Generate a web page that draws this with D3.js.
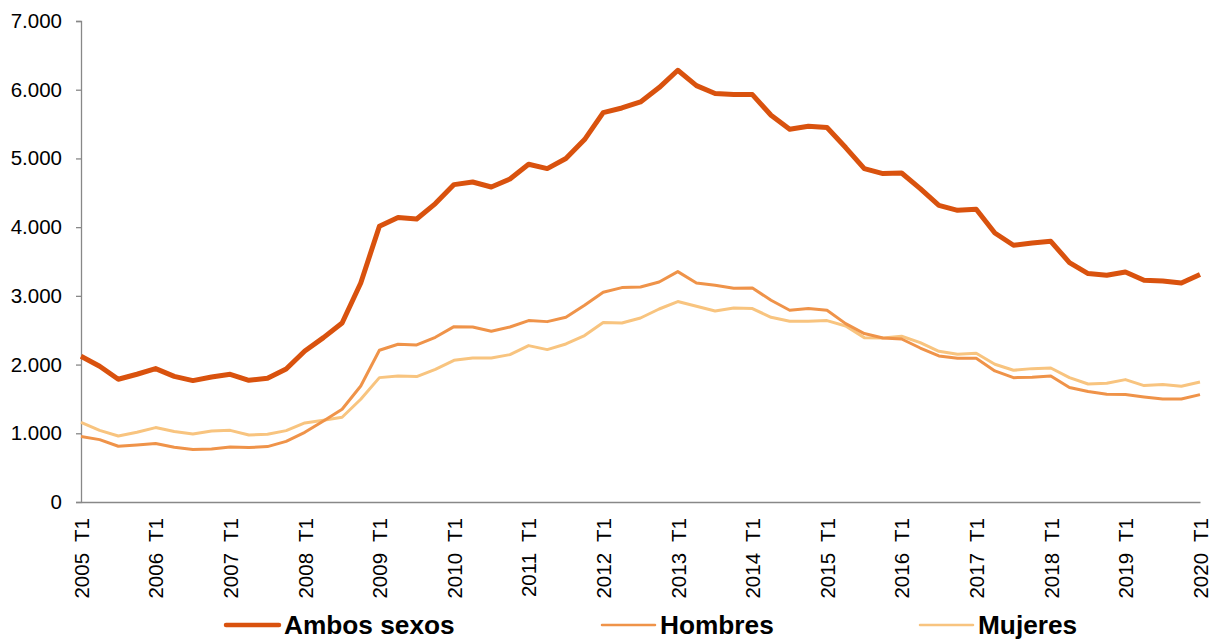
<!DOCTYPE html>
<html>
<head>
<meta charset="utf-8">
<script src="https://cdn.jsdelivr.net/npm/d3@7"></script>
<style>
  html, body { margin: 0; padding: 0; background: #fff; }
  svg { display: block; font-family: Arial, "Liberation Sans", sans-serif; }
</style>
</head>
<body>
<script>
// años del eje (cada uno con sus cuatro trimestres), la serie acaba en 2020 T1
const years = [2005, 2006, 2007, 2008, 2009, 2010, 2011, 2012, 2013, 2014, 2015, 2016, 2017, 2018, 2019, 2020];
const quarters = years.flatMap(y => ["T1", "T2", "T3", "T4"].map(t => `${y} ${t}`)).slice(0, 61);

const ambos = [
  2120, 1975, 1786, 1859, 1941, 1829, 1767, 1820, 1859, 1771, 1800, 1936,
  2198, 2392, 2605, 3188, 4012, 4139, 4119, 4343, 4619, 4657, 4584, 4701,
  4915, 4852, 4998, 5274, 5667, 5734, 5822, 6031, 6283, 6060, 5944, 5929,
  5929, 5628, 5424, 5468, 5449, 5158, 4852, 4779, 4788, 4561, 4318, 4245,
  4260, 3915, 3736, 3770, 3794, 3484, 3324, 3299, 3348, 3227, 3217, 3188, 3310
];
const hombres = [
  952, 908, 811, 830, 850, 796, 763, 771, 800, 792, 806, 883,
  1014, 1179, 1349, 1688, 2208, 2295, 2285, 2397, 2552, 2547, 2484, 2547,
  2640, 2625, 2688, 2863, 3052, 3120, 3129, 3202, 3353, 3187, 3154, 3110,
  3115, 2936, 2790, 2815, 2790, 2596, 2451, 2387, 2372, 2241, 2125, 2091,
  2091, 1907, 1810, 1815, 1834, 1665, 1607, 1567, 1563, 1528, 1499, 1499, 1563
];
const mujeres = [
  1160, 1043, 961, 1014, 1083, 1025, 990, 1033, 1043, 975, 985, 1039,
  1150, 1189, 1233, 1495, 1810, 1834, 1825, 1931, 2062, 2096, 2096, 2145,
  2276, 2218, 2300, 2422, 2611, 2605, 2678, 2809, 2917, 2848, 2780, 2824,
  2815, 2688, 2630, 2630, 2640, 2562, 2392, 2387, 2412, 2320, 2193, 2150,
  2164, 2004, 1917, 1941, 1950, 1810, 1717, 1728, 1781, 1694, 1709, 1684, 1746
];
const yTicks = [0, 1000, 2000, 3000, 4000, 5000, 6000, 7000];

const series = [
  { name: "Ambos sexos", values: ambos, color: "#d9520e", width: 5 },
  { name: "Hombres", values: hombres, color: "#ef9349", width: 3 },
  { name: "Mujeres", values: mujeres, color: "#f8c47f", width: 3 }
];

const width = 1219, height = 639;
const margin = { top: 21, right: 19, bottom: 137, left: 81 };

const es = d3.formatLocale({ decimal: ",", thousands: ".", grouping: [3], currency: ["", " €"] });
const fmt = es.format(",.0f");

const svg = d3.select("body").append("svg")
    .attr("width", width)
    .attr("height", height);

const x = d3.scalePoint()
    .domain(quarters)
    .range([margin.left, width - margin.right]);

const y = d3.scaleLinear()
    .domain([0, 7000])
    .range([height - margin.bottom, margin.top]);

// eje Y
const yAxis = svg.append("g")
    .attr("transform", `translate(${margin.left},0)`)
    .call(d3.axisLeft(y).tickValues(yTicks).tickFormat(fmt).tickSize(5).tickPadding(14));
yAxis.select(".domain").attr("stroke", "#888").attr("stroke-width", 1.3);
yAxis.selectAll(".tick line").attr("stroke", "#888").attr("stroke-width", 1.3);
yAxis.selectAll(".tick text")
    .attr("fill", "#000")
    .style("font-size", "20.5px");

// eje X (solo etiquetas de T1)
const xAxis = svg.append("g")
    .attr("transform", `translate(0,${height - margin.bottom})`)
    .call(d3.axisBottom(x)
      .tickValues(quarters.filter(q => q.endsWith("T1")))
      .tickSize(0)
      .tickSizeOuter(0));
xAxis.select(".domain").attr("stroke", "#888").attr("stroke-width", 1.3);
xAxis.selectAll(".tick text")
    .attr("fill", "#000")
    .style("font-size", "20.5px")
    .style("white-space", "pre")
    .attr("text-anchor", "end")
    .attr("transform", "rotate(-90)")
    .attr("x", -16)
    .attr("y", 0)
    .attr("dy", "0.36em")
    .text(d => d.replace(" ", "  "));

// líneas
const line = d3.line()
    .x((d, i) => x(quarters[i]))
    .y(d => y(d));

svg.append("g")
    .attr("fill", "none")
    .attr("stroke-linejoin", "round")
  .selectAll("path")
  .data(series.slice().reverse())
  .join("path")
    .attr("stroke", d => d.color)
    .attr("stroke-width", d => d.width)
    .attr("d", d => line(d.values));

// leyenda
const legendX = [226, 602, 920];
const legend = svg.append("g")
  .selectAll("g")
  .data(series)
  .join("g")
    .attr("transform", (d, i) => `translate(${legendX[i]},625)`);

legend.append("line")
    .attr("x1", 0).attr("x2", 53)
    .attr("stroke", d => d.color)
    .attr("stroke-width", d => d.width - 0.5)
    .attr("stroke-linecap", "round");

legend.append("text")
    .attr("transform", "translate(58,9) scale(1.05,1)")
    .style("font-size", "25px")
    .style("font-weight", "bold")
    .text(d => d.name);
</script>
</body>
</html>
